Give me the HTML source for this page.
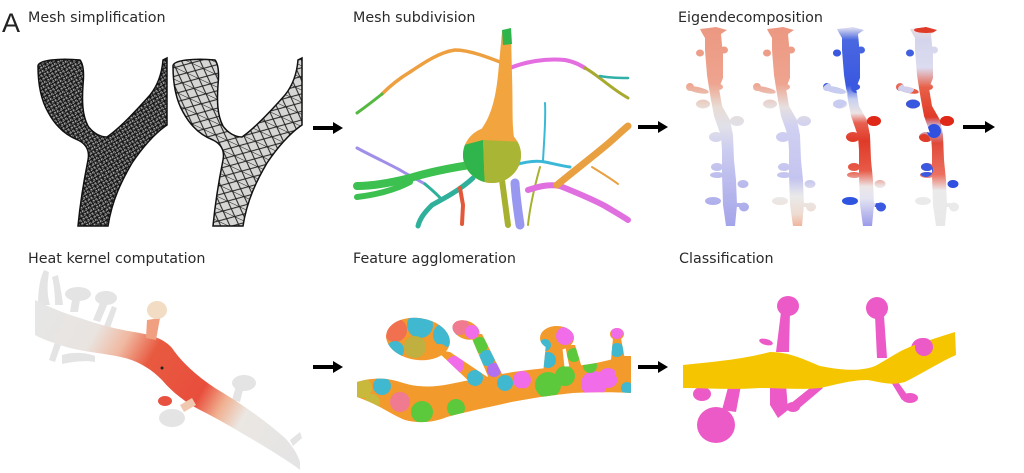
<!DOCTYPE html>
<html><head><meta charset="utf-8"><style>
html,body{margin:0;padding:0;background:#fff;width:1024px;height:473px;overflow:hidden}
svg{display:block}
text{font-family:"DejaVu Sans","Liberation Sans",sans-serif;fill:#2a2a2a;font-size:14.3px}
</style></head><body>
<svg width="1024" height="473" viewBox="0 0 1024 473" xmlns="http://www.w3.org/2000/svg">
<defs>
<pattern id="pd" width="5" height="5" patternUnits="userSpaceOnUse" patternTransform="rotate(15)">
<rect width="5" height="5" fill="#a8a8a8"/>
<path d="M0,0H5M0,0L5,5M5,0L0,5M0,0V5" stroke="#111" stroke-width="1.1" fill="none"/>
</pattern>
<pattern id="pl" width="13" height="11" patternUnits="userSpaceOnUse" patternTransform="rotate(25)">
<rect width="13" height="11" fill="#d6d6d4"/>
<path d="M0,0H13M0,0L13,11M13,0L0,11" stroke="#1a1a1a" stroke-width="1" fill="none"/>
</pattern>
<linearGradient id="e1" gradientUnits="userSpaceOnUse" x1="0" y1="28" x2="0" y2="226">
<stop offset="0" stop-color="#ec9882"/><stop offset="0.28" stop-color="#eea48f"/><stop offset="0.4" stop-color="#e8dcd4"/><stop offset="0.5" stop-color="#e0e0ea"/><stop offset="0.62" stop-color="#ccccf0"/><stop offset="1" stop-color="#a4a4ea"/>
</linearGradient>
<linearGradient id="e2" gradientUnits="userSpaceOnUse" x1="0" y1="28" x2="0" y2="226">
<stop offset="0" stop-color="#ec9882"/><stop offset="0.28" stop-color="#eea48f"/><stop offset="0.4" stop-color="#e6e0e0"/><stop offset="0.5" stop-color="#d0d0f2"/><stop offset="0.76" stop-color="#c4c4f0"/><stop offset="0.85" stop-color="#eaeaea"/><stop offset="0.94" stop-color="#eedcd2"/><stop offset="1" stop-color="#f0b49c"/>
</linearGradient>
<linearGradient id="e3" gradientUnits="userSpaceOnUse" x1="0" y1="28" x2="0" y2="226">
<stop offset="0" stop-color="#dcdcf0"/><stop offset="0.06" stop-color="#4a68e0"/><stop offset="0.29" stop-color="#3a58e0"/><stop offset="0.36" stop-color="#c8d0f0"/><stop offset="0.43" stop-color="#ece4e4"/><stop offset="0.48" stop-color="#e86050"/><stop offset="0.57" stop-color="#e03a28"/><stop offset="0.72" stop-color="#e85a48"/><stop offset="0.8" stop-color="#ece6e6"/><stop offset="0.86" stop-color="#e4e4f2"/><stop offset="1" stop-color="#9a9aea"/>
</linearGradient>
<linearGradient id="e4" gradientUnits="userSpaceOnUse" x1="0" y1="28" x2="0" y2="226">
<stop offset="0" stop-color="#ecdcdc"/><stop offset="0.06" stop-color="#d4d4ec"/><stop offset="0.2" stop-color="#dcdcf0"/><stop offset="0.3" stop-color="#e86048"/><stop offset="0.45" stop-color="#e03a28"/><stop offset="0.5" stop-color="#c4c4ec"/><stop offset="0.58" stop-color="#e04a38"/><stop offset="0.74" stop-color="#ec7060"/><stop offset="0.82" stop-color="#ebebeb"/><stop offset="1" stop-color="#e8e8e8"/>
</linearGradient>
<linearGradient id="hk" gradientUnits="userSpaceOnUse" x1="35" y1="315" x2="300" y2="465">
<stop offset="0" stop-color="#e6e6e6"/><stop offset="0.2" stop-color="#e9e4e0"/><stop offset="0.3" stop-color="#f0b8a0"/><stop offset="0.4" stop-color="#e85a40"/><stop offset="0.6" stop-color="#e84e3c"/><stop offset="0.68" stop-color="#f0b090"/><stop offset="0.76" stop-color="#ebe7e3"/><stop offset="1" stop-color="#e4e4e4"/>
</linearGradient>
<clipPath id="dend">
<path d="M700,29 L709,28 L716,27 L727,30 L721,34 L723,55 L723,78 L719,88 L722,106 L730,120 L733,135 L734,160 L736,180 L737,205 L735,226 L726,226 L723,205 L722,175 L722,150 L721,136 L714,116 L711,100 L709,88 L707,75 L705,50 L705,38 L702,33 Z"/>
<ellipse cx="700" cy="53" rx="4" ry="3.5"/>
<ellipse cx="724" cy="50" rx="4" ry="3.5"/>
<ellipse cx="719" cy="87" rx="4" ry="3"/>
<ellipse cx="698" cy="90" rx="11" ry="3" transform="rotate(12 698 90)"/>
<ellipse cx="690" cy="87" rx="4" ry="4"/>
<ellipse cx="703" cy="104" rx="7" ry="4.5"/>
<ellipse cx="737" cy="121" rx="7" ry="5"/>
<ellipse cx="716" cy="137" rx="7" ry="5"/>
<ellipse cx="717" cy="167" rx="6" ry="4"/>
<ellipse cx="717" cy="175" rx="7" ry="3"/>
<ellipse cx="743" cy="184" rx="5.5" ry="4"/>
<ellipse cx="713" cy="201" rx="8" ry="4"/>
<ellipse cx="744" cy="207" rx="5" ry="4.5"/>
<ellipse cx="739" cy="205" rx="6" ry="2"/>
</clipPath>
<clipPath id="soma"><ellipse cx="492" cy="155" rx="29" ry="28"/></clipPath>
<clipPath id="fa">
<path d="M357,382 C370,378 385,377 400,382 C415,387 430,388 450,384 C470,380 490,376 513,372 C535,369 555,367 575,366 C595,364 610,360 623,356 L631,356 L631,393 C615,392 595,392 573,393 C555,395 530,398 507,403 C485,408 465,412 447,417 C435,422 420,424 405,420 C392,415 380,405 357,397 Z"/>
<ellipse cx="418" cy="339" rx="32" ry="21" transform="rotate(8 418 339)"/>
<path d="M436,350 L450,352 L492,380 L476,388 Z"/>
<ellipse cx="466" cy="330" rx="14" ry="9" transform="rotate(20 466 330)"/>
<path d="M470,334 L482,334 L504,378 L490,381 Z"/>
<ellipse cx="557" cy="338" rx="17" ry="12"/>
<path d="M546,344 L562,344 L565,372 L543,374 Z"/>
<path d="M565,345 L575,345 L582,368 L570,370 Z"/>
<ellipse cx="617" cy="334" rx="7" ry="6"/>
<path d="M613,338 L621,338 L625,360 L611,360 Z"/>
</clipPath>
</defs>

<!-- Labels -->
<text x="2" y="32" style="font-family:'Liberation Sans',sans-serif;font-size:27px;fill:#222">A</text>
<text x="28" y="22">Mesh simplification</text>
<text x="353" y="22">Mesh subdivision</text>
<text x="678" y="22">Eigendecomposition</text>
<text x="28" y="263">Heat kernel computation</text>
<text x="353" y="263">Feature agglomeration</text>
<text x="679" y="263">Classification</text>

<!-- Arrows -->
<g fill="#000">
<path d="M313,126 H333 V122 L343,128 L333,134 V130 H313 Z"/>
<path d="M638,125 H658 V121 L668,127 L658,133 V129 H638 Z"/>
<path d="M963,125 H985 V121 L995,127 L985,133 V129 H963 Z"/>
<path d="M313,365 H333 V361 L343,367 L333,373 V369 H313 Z"/>
<path d="M638,365 H658 V361 L668,367 L658,373 V369 H638 Z"/>
</g>

<!-- Mesh simplification -->
<path d="M38,66 C38,60 60,58 80,60 C84,65 84,75 83,85 C82,100 82,115 88,126 C93,133 100,137 107,137 C120,128 135,112 150,95 C158,85 162,72 163,60 L167,58 L167,125 C155,133 142,148 132,163 C122,180 112,200 108,226 L78,226 C80,205 84,180 88,160 C90,150 86,144 78,140 C65,135 55,125 48,112 C40,98 38,82 38,66 Z" fill="url(#pd)" stroke="#111" stroke-width="1.5"/>
<path transform="translate(135,0)" d="M38,66 C38,60 60,58 80,60 C84,65 84,75 83,85 C82,100 82,115 88,126 C93,133 100,137 107,137 C120,128 135,112 150,95 C158,85 162,72 163,60 L167,58 L167,125 C155,133 142,148 132,163 C122,180 112,200 108,226 L78,226 C80,205 84,180 88,160 C90,150 86,144 78,140 C65,135 55,125 48,112 C40,98 38,82 38,66 Z" fill="url(#pl)" stroke="#111" stroke-width="1.5"/>

<!-- Mesh subdivision (neuron) -->
<g fill="none" stroke-linecap="round" stroke-linejoin="round">
<path d="M505,64 C490,58 470,50 455,50 C440,52 425,62 410,72 C400,78 390,86 382,94" stroke="#eea040" stroke-width="3.5"/>
<path d="M382,94 C372,102 364,108 357,113" stroke="#55b840" stroke-width="3"/>
<path d="M510,68 C525,62 545,58 565,60 C575,62 580,65 585,68" stroke="#e46ee0" stroke-width="4"/>
<path d="M585,68 C598,75 610,88 628,98" stroke="#a8aa30" stroke-width="3"/>
<path d="M600,76 C610,78 620,78 628,78" stroke="#30b0a8" stroke-width="2.5"/>
<path d="M357,148 C370,155 385,162 400,170 C410,176 418,180 425,184" stroke="#a08ee8" stroke-width="3"/>
<path d="M425,184 C432,190 438,195 442,200" stroke="#2eb09a" stroke-width="3"/>
<path d="M473,178 C460,190 445,198 432,205 C425,212 420,218 418,226" stroke="#2eb09a" stroke-width="5"/>
<path d="M470,165 C450,168 430,172 410,178 C390,183 370,186 357,186" stroke="#3cc050" stroke-width="8"/>
<path d="M410,182 C395,190 375,195 357,197" stroke="#3cc050" stroke-width="6"/>
<path d="M460,188 L463,205 L462,224" stroke="#e2583a" stroke-width="4"/>
<path d="M502,180 C504,195 506,210 508,225" stroke="#a8b030" stroke-width="6"/>
<path d="M540,167 C535,185 530,205 528,225" stroke="#a8b030" stroke-width="2"/>
<path d="M515,165 C525,162 535,160 545,162 C555,164 562,166 570,167" stroke="#3ab8d8" stroke-width="3"/>
<path d="M543,161 C544,140 546,120 545,103" stroke="#3ab8d8" stroke-width="2"/>
<path d="M528,190 C540,186 550,184 560,186 C575,192 590,198 605,206 C615,212 622,216 628,220" stroke="#e070e0" stroke-width="6"/>
<path d="M557,185 C575,170 595,155 610,142 C618,135 623,130 628,126" stroke="#e8a040" stroke-width="7"/>
<path d="M592,167 C600,172 610,178 618,184" stroke="#e8a040" stroke-width="2"/>
<path d="M515,183 C516,198 518,212 520,225" stroke="#9898f0" stroke-width="9"/>
</g>
<path d="M474,137 C488,125 495,105 498,75 L502,32 L511,32 L512,75 C513,105 512,125 514,137 Z" fill="#f2a43e"/>
<path d="M502,30 L511,28 L512,44 L503,45 Z" fill="#2fb54c"/>
<g clip-path="url(#soma)">
<rect x="460" y="124" width="65" height="65" fill="#f2a43e"/>
<path d="M460,146 L483,140 L485,190 L460,190 Z" fill="#2fb54c"/>
<path d="M483,140 L525,142 L525,190 L485,190 Z" fill="#a9b535"/>
</g>

<!-- Eigendecomposition -->
<g clip-path="url(#dend)">
<rect x="680" y="25" width="80" height="205" fill="url(#e1)"/>
</g>
<g transform="translate(67,0)" clip-path="url(#dend)">
<rect x="680" y="25" width="80" height="205" fill="url(#e2)"/>
</g>
<g transform="translate(137,0)" clip-path="url(#dend)">
<rect x="680" y="25" width="80" height="205" fill="url(#e3)"/>
<circle cx="700" cy="53" r="5" fill="#3a58e0"/>
<circle cx="719" cy="88" r="5" fill="#3a58e0"/>
<ellipse cx="697" cy="96" rx="14" ry="14" fill="#c8ccf0"/>
<circle cx="738" cy="121" r="8" fill="#e02818"/>
<circle cx="713" cy="201" r="9" fill="#2f55e0"/>
<circle cx="744" cy="207" r="6" fill="#3a58e0"/>
</g>
<g transform="translate(210,0)" clip-path="url(#dend)">
<rect x="680" y="25" width="80" height="205" fill="url(#e4)"/>
<ellipse cx="716" cy="30" rx="12" ry="3" fill="#e03a28"/>
<circle cx="700" cy="53" r="5" fill="#4060e0"/>
<circle cx="703" cy="104" r="8" fill="#3858e0"/>
<ellipse cx="696" cy="89" rx="8" ry="5" fill="#d0d0ee"/>
<circle cx="738" cy="121" r="8" fill="#e02818"/>
<ellipse cx="724" cy="131" rx="7" ry="7" fill="#3050e0"/>
<circle cx="714" cy="140" r="6" fill="#e03a28"/>
<circle cx="716" cy="170" r="7" fill="#3a58e0"/>
<circle cx="743" cy="184" r="6" fill="#3050e0"/>
</g>

<!-- Heat kernel -->
<g fill="#e4e4e4">
<path d="M38,305 C38,290 40,278 44,270 L49,272 C47,285 47,295 50,305 Z"/>
<path d="M55,305 C55,295 54,285 52,277 L58,275 C60,285 62,295 63,305 Z"/>
<ellipse cx="78" cy="294" rx="13" ry="7"/>
<path d="M72,300 L80,300 L78,312 L70,312 Z"/>
<ellipse cx="106" cy="298" rx="11" ry="7"/>
<path d="M100,303 L108,303 L100,322 L93,320 Z"/>
<path d="M112,306 L117,308 L110,328 L104,326 Z"/>
<path d="M55,342 L62,342 L55,362 L49,360 Z"/>
<path d="M62,355 C72,352 85,352 95,356 L95,362 C85,360 72,362 62,364 Z"/>
<ellipse cx="244" cy="383" rx="12" ry="8"/>
<path d="M236,386 L244,386 L240,402 L232,400 Z"/>
<path d="M290,440 L300,432 L302,438 L293,446 Z"/>
<ellipse cx="172" cy="418" rx="13" ry="9"/>
</g>
<path d="M35,300 C45,305 60,312 80,318 C100,325 120,330 140,333 C155,336 165,340 172,348 C180,360 195,375 215,388 C240,403 265,420 285,438 C292,445 298,455 300,462 L300,470 C290,462 278,455 262,445 C240,432 220,420 200,410 C185,402 172,392 162,380 C152,370 140,362 125,358 C105,353 80,352 60,345 C48,341 40,338 35,335 Z" fill="url(#hk)"/>
<path d="M147,320 L160,318 L156,340 L146,338 Z" fill="#f0a080"/>
<ellipse cx="157" cy="310" rx="10" ry="9" fill="#f2dcc4"/>
<ellipse cx="165" cy="401" rx="7" ry="5" fill="#e85040"/>
<path d="M180,405 L192,398 L196,405 L184,412 Z" fill="#f0c8b0"/>
<circle cx="162" cy="368" r="1.5" fill="#222"/>

<!-- Feature agglomeration -->
<g clip-path="url(#fa)">
<rect x="350" y="310" width="290" height="120" fill="#f29a2c"/>
<circle cx="395" cy="330" r="12" fill="#f07050"/>
<circle cx="420" cy="325" r="13" fill="#40b8d0"/>
<circle cx="445" cy="335" r="12" fill="#40b8d0"/>
<circle cx="415" cy="347" r="11" fill="#c0b040"/>
<circle cx="395" cy="350" r="9" fill="#40b8d0"/>
<circle cx="440" cy="352" r="8" fill="#f29a2c"/>
<circle cx="455" cy="365" r="9" fill="#f06ce8"/>
<circle cx="475" cy="378" r="8" fill="#40b8d0"/>
<circle cx="362" cy="388" r="10" fill="#c8b83c"/>
<circle cx="382" cy="386" r="9" fill="#40b8d0"/>
<circle cx="400" cy="402" r="10" fill="#f07a90"/>
<circle cx="372" cy="402" r="8" fill="#c8b83c"/>
<circle cx="422" cy="412" r="11" fill="#5cc83c"/>
<circle cx="440" cy="400" r="9" fill="#f29a2c"/>
<circle cx="456" cy="408" r="9" fill="#5cc83c"/>
<circle cx="460" cy="326" r="9" fill="#f07a90"/>
<circle cx="472" cy="332" r="7" fill="#f06ce8"/>
<circle cx="480" cy="345" r="8" fill="#5cc83c"/>
<circle cx="487" cy="358" r="8" fill="#40b8d0"/>
<circle cx="494" cy="370" r="7" fill="#b070f0"/>
<circle cx="470" cy="395" r="10" fill="#f29a2c"/>
<circle cx="505" cy="383" r="8" fill="#40b8d0"/>
<circle cx="522" cy="380" r="9" fill="#f06ce8"/>
<circle cx="522" cy="397" r="9" fill="#f29a2c"/>
<circle cx="548" cy="385" r="13" fill="#5cc83c"/>
<circle cx="565" cy="376" r="10" fill="#5cc83c"/>
<circle cx="548" cy="360" r="8" fill="#40b8d0"/>
<circle cx="550" cy="332" r="9" fill="#f29a2c"/>
<circle cx="565" cy="336" r="9" fill="#f06ce8"/>
<circle cx="545" cy="345" r="6" fill="#40b8d0"/>
<circle cx="574" cy="355" r="7" fill="#5cc83c"/>
<circle cx="594" cy="384" r="13" fill="#f06ce8"/>
<circle cx="608" cy="378" r="10" fill="#f06ce8"/>
<circle cx="590" cy="366" r="7" fill="#5cc83c"/>
<circle cx="624" cy="372" r="9" fill="#f29a2c"/>
<circle cx="617" cy="350" r="7" fill="#40b8d0"/>
<circle cx="627" cy="388" r="6" fill="#40b8d0"/>
<circle cx="617" cy="333" r="6" fill="#f06ce8"/>
</g>

<!-- Classification -->
<g fill="#ec5ac8">
<path d="M781,312 L790,312 L789,352 L776,352 Z"/>
<ellipse cx="788" cy="306" rx="11" ry="10"/>
<ellipse cx="766" cy="342" rx="7" ry="3" transform="rotate(15 766 342)"/>
<path d="M875,316 L884,316 L887,358 L877,358 Z"/>
<ellipse cx="877" cy="308" rx="11" ry="11"/>
<ellipse cx="922" cy="349" rx="11" ry="11"/>
<path d="M730,380 L742,380 L736,412 L722,410 Z"/>
<ellipse cx="716" cy="425" rx="19" ry="18"/>
<ellipse cx="702" cy="394" rx="9" ry="7"/>
<path d="M770,384 L786,384 L788,410 L778,418 L770,405 Z"/>
<path d="M815,384 L823,388 L797,410 L790,404 Z"/>
<ellipse cx="793" cy="407" rx="7" ry="5"/>
<path d="M891,382 L898,382 L908,396 L902,400 Z"/>
<ellipse cx="910" cy="398" rx="8" ry="5"/>
</g>
<path d="M683,365 C710,362 740,360 770,352 C790,352 805,360 820,366 C840,370 860,372 875,366 C890,358 900,350 915,345 C930,340 945,335 955,332 L956,355 C940,362 925,372 905,382 C890,386 880,382 868,380 C850,380 835,385 820,388 C800,390 780,388 760,388 C730,390 705,388 683,388 Z" fill="#f5c600"/>
<ellipse cx="924" cy="347" rx="9" ry="9" fill="#ec5ac8"/>
</svg>
</body></html>
